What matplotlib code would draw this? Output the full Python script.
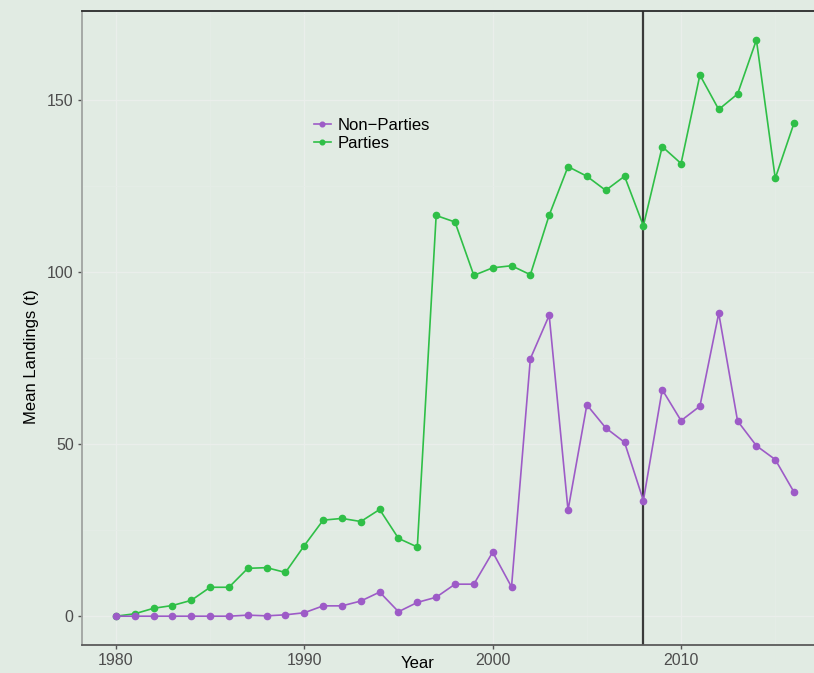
import numpy as np
import matplotlib.pyplot as plt
from matplotlib.ticker import MultipleLocator

plt.rcParams['font.family'] = ['Liberation Sans', 'DejaVu Sans']

# Data
years = list(range(1980, 2017))
parties = [0.0, 0.7, 2.3, 3.1, 4.6, 8.4, 8.4, 13.9, 14.1, 12.7,
           20.5, 27.9, 28.4, 27.5, 31.0, 22.6, 20.1, 116.4, 114.5, 99.0,
           101.2, 101.8, 99.2, 116.5, 130.6, 127.8, 123.7, 127.8, 113.4, 136.4,
           131.5, 157.2, 147.2, 151.7, 167.4, 127.2, 143.3]
non_parties = [0.0, 0.0, 0.0, 0.0, 0.0, 0.0, 0.0, 0.3, 0.1, 0.4,
               1.0, 3.0, 3.0, 4.4, 7.0, 1.3, 4.0, 5.5, 9.3, 9.3,
               18.6, 8.5, 74.8, 87.4, 30.8, 61.4, 54.7, 50.5, 33.6, 65.8,
               56.8, 61.0, 88.0, 56.7, 49.5, 45.5, 36.0]
event_year = 2008

bg = '#e1ebe3'
green = '#2fbf47'
purple = '#9d5bc7'

fig = plt.figure(figsize=(8.14, 6.73), dpi=100, facecolor=bg)
W, H = 814, 673
ax = fig.add_axes([82 / W, 1 - 645 / H, (828 - 82) / W, (645 - 11) / H])
ax.set_facecolor(bg)

# grid
ax.xaxis.set_major_locator(MultipleLocator(10))
ax.xaxis.set_minor_locator(MultipleLocator(5))
ax.yaxis.set_major_locator(MultipleLocator(50))
ax.yaxis.set_minor_locator(MultipleLocator(25))
ax.grid(which='major', color='#eaeeeb', lw=1.0, zorder=0)
ax.grid(which='minor', color='#e5ede7', lw=0.6, zorder=0)
ax.set_axisbelow(True)

ax.axvline(event_year, color='#3a3a3a', lw=1.6, zorder=1)

lp, = ax.plot(years, parties, color=green, lw=1.2, marker='o', ms=4.5,
              mec=green, mfc=green, zorder=2, label='Parties')
ln, = ax.plot(years, non_parties, color=purple, lw=1.2, marker='o', ms=4.5,
              mec=purple, mfc=purple, zorder=3, label='Non\u2212Parties')

ax.set_xlim(1978.2, 2017.8)
ax.set_ylim(-8.37, 175.8)

ax.spines['right'].set_visible(False)
ax.spines['top'].set_color('#2a2a2a')
ax.spines['top'].set_linewidth(1.3)
ax.spines['left'].set_color('#a0a4a1')
ax.spines['left'].set_linewidth(1.3)
ax.spines['bottom'].set_color('#5a5a5a')
ax.spines['bottom'].set_linewidth(1.3)

ax.tick_params(which='major', length=3, width=1, color='#555555',
               labelsize=11.5, labelcolor='#4d4d4d', pad=3)
ax.tick_params(which='minor', length=0)

fig.text(32 / W, 1 - 357 / H, 'Mean Landings (t)', rotation=90,
         ha='center', va='center', fontsize=12, color='black')
fig.text(418 / W, 1 - 664 / H, 'Year', ha='center', va='center',
         fontsize=12, color='black')

leg = ax.legend(handles=[ln, lp], loc='upper left',
                bbox_to_anchor=((314 - 82) / (828 - 82), (645 - 118) / (645 - 11)),
                frameon=False, fontsize=12, handlelength=1.0,
                handletextpad=0.4, labelspacing=0.15, borderaxespad=0,
                borderpad=0, markerscale=0.75)

fig.savefig('out.png', dpi=100, facecolor=bg)
